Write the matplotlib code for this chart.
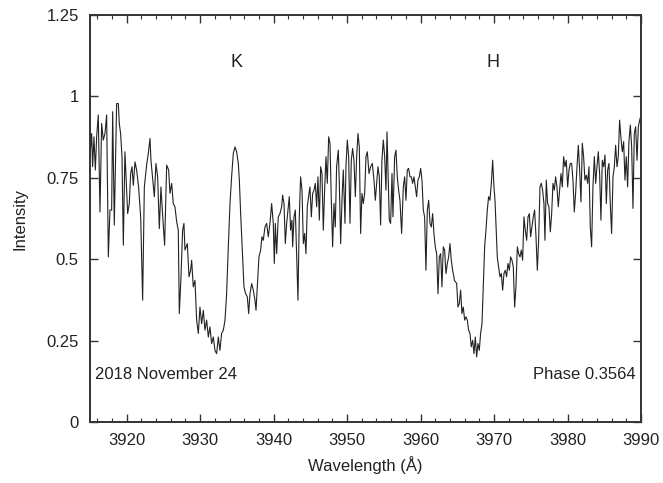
import matplotlib
matplotlib.use("Agg")
import matplotlib.pyplot as plt
import numpy as np
from matplotlib.ticker import MultipleLocator

plt.rcParams['font.family'] = ['Liberation Sans', 'DejaVu Sans']

# Spectrum (wavelength in Angstrom, normalised intensity)
wavelength = [
    3915.00, 3915.23, 3915.36, 3915.54, 3915.73, 3915.91, 3916.13, 3916.36, 3916.59, 3916.81,
    3917.04, 3917.27, 3917.50, 3917.72, 3917.95, 3918.09, 3918.31, 3918.63, 3918.86, 3918.99,
    3919.17, 3919.36, 3919.54, 3919.76, 3919.99, 3920.13, 3920.35, 3920.54, 3920.72, 3920.90,
    3921.13, 3921.35, 3921.62, 3921.90, 3922.17, 3922.40, 3922.71, 3922.94, 3923.17, 3923.30,
    3923.53, 3923.76, 3923.98, 3924.21, 3924.44, 3924.66, 3924.89, 3925.16, 3925.44, 3925.71,
    3925.89, 3926.12, 3926.34, 3926.57, 3926.80, 3927.02, 3927.16, 3927.39, 3927.61, 3927.79,
    3927.93, 3928.25, 3928.48, 3928.70, 3928.84, 3929.06, 3929.29, 3929.52, 3929.75, 3929.97,
    3930.20, 3930.43, 3930.65, 3930.88, 3931.11, 3931.33, 3931.56, 3931.79, 3932.01, 3932.24,
    3932.47, 3932.69, 3932.92, 3933.15, 3933.38, 3933.60, 3933.83, 3934.06, 3934.28, 3934.51,
    3934.74, 3934.96, 3935.19, 3935.33, 3935.51, 3935.73, 3935.96, 3936.19, 3936.42, 3936.60,
    3936.78, 3937.01, 3937.23, 3937.46, 3937.60, 3937.78, 3938.00, 3938.23, 3938.41, 3938.59,
    3938.82, 3939.05, 3939.27, 3939.50, 3939.73, 3939.95, 3940.09, 3940.23, 3940.41, 3940.63,
    3940.86, 3941.09, 3941.22, 3941.41, 3941.59, 3941.77, 3941.95, 3942.13, 3942.31, 3942.49,
    3942.59, 3942.77, 3942.95, 3943.13, 3943.31, 3943.49, 3943.67, 3943.86, 3944.04, 3944.22,
    3944.40, 3944.58, 3944.81, 3944.94, 3945.13, 3945.31, 3945.49, 3945.67, 3945.85, 3946.03,
    3946.22, 3946.40, 3946.58, 3946.76, 3946.94, 3947.12, 3947.30, 3947.49, 3947.67, 3947.85,
    3948.03, 3948.21, 3948.39, 3948.57, 3948.80, 3948.94, 3949.12, 3949.30, 3949.48, 3949.71,
    3949.84, 3950.03, 3950.21, 3950.39, 3950.57, 3950.75, 3950.93, 3951.12, 3951.30, 3951.48,
    3951.66, 3951.84, 3952.02, 3952.20, 3952.39, 3952.57, 3952.75, 3952.98, 3953.20, 3953.43,
    3953.66, 3953.84, 3954.02, 3954.20, 3954.38, 3954.56, 3954.74, 3954.93, 3955.11, 3955.29,
    3955.43, 3955.56, 3955.74, 3955.92, 3956.11, 3956.24, 3956.47, 3956.65, 3956.83, 3957.01,
    3957.19, 3957.42, 3957.65, 3957.83, 3958.01, 3958.19, 3958.37, 3958.56, 3958.74, 3958.92,
    3959.10, 3959.28, 3959.46, 3959.64, 3959.83, 3960.01, 3960.19, 3960.37, 3960.55, 3960.73,
    3960.92, 3961.10, 3961.28, 3961.46, 3961.64, 3961.82, 3962.00, 3962.19, 3962.37, 3962.55,
    3962.73, 3962.91, 3963.09, 3963.27, 3963.46, 3963.64, 3963.82, 3964.00, 3964.18, 3964.36,
    3964.54, 3964.59, 3964.77, 3964.91, 3965.09, 3965.27, 3965.45, 3965.63, 3965.81, 3966.00,
    3966.18, 3966.36, 3966.54, 3966.72, 3966.90, 3967.09, 3967.27, 3967.45, 3967.63, 3967.81,
    3967.99, 3968.17, 3968.36, 3968.54, 3968.72, 3968.90, 3969.08, 3969.26, 3969.44, 3969.63,
    3969.81, 3969.99, 3970.13, 3970.26, 3970.44, 3970.62, 3970.81, 3970.99, 3971.17, 3971.35,
    3971.53, 3971.71, 3971.89, 3972.08, 3972.26, 3972.44, 3972.62, 3972.80, 3972.98, 3973.17,
    3973.35, 3973.53, 3973.71, 3973.89, 3974.07, 3974.25, 3974.44, 3974.62, 3974.80, 3974.98,
    3975.16, 3975.34, 3975.52, 3975.71, 3975.89, 3976.07, 3976.25, 3976.43, 3976.61, 3976.79,
    3976.93, 3977.11, 3977.29, 3977.47, 3977.66, 3977.84, 3978.02, 3978.20, 3978.38, 3978.56,
    3978.74, 3978.93, 3979.11, 3979.29, 3979.47, 3979.65, 3979.83, 3980.02, 3980.20, 3980.38,
    3980.56, 3980.74, 3980.92, 3981.10, 3981.29, 3981.47, 3981.65, 3981.83, 3982.01, 3982.19,
    3982.37, 3982.56, 3982.74, 3982.92, 3983.10, 3983.28, 3983.46, 3983.65, 3983.83, 3984.01,
    3984.19, 3984.37, 3984.55, 3984.73, 3984.92, 3985.10, 3985.28, 3985.46, 3985.64, 3985.82,
    3986.00, 3986.19, 3986.37, 3986.55, 3986.73, 3986.91, 3987.09, 3987.28, 3987.46, 3987.64,
    3987.82, 3988.00, 3988.18, 3988.36, 3988.55, 3988.73, 3988.91, 3989.09, 3989.27, 3989.46,
    3989.64, 3989.82, 3989.95,
]
intensity = [
    0.815, 0.886, 0.784, 0.876, 0.774, 0.876, 0.943, 0.645, 0.917, 0.866,
    0.886, 0.943, 0.507, 0.651, 0.651, 0.953, 0.605, 0.978, 0.978, 0.917,
    0.886, 0.815, 0.543, 0.830, 0.712, 0.640, 0.671, 0.763, 0.784, 0.727,
    0.799, 0.774, 0.722, 0.630, 0.374, 0.722, 0.789, 0.825, 0.871, 0.804,
    0.748, 0.692, 0.794, 0.753, 0.594, 0.722, 0.635, 0.543, 0.789, 0.774,
    0.702, 0.733, 0.671, 0.661, 0.615, 0.589, 0.333, 0.446, 0.589, 0.610,
    0.528, 0.548, 0.446, 0.466, 0.497, 0.415, 0.435, 0.313, 0.272, 0.353,
    0.302, 0.343, 0.282, 0.313, 0.261, 0.292, 0.241, 0.261, 0.220, 0.210,
    0.261, 0.220, 0.272, 0.282, 0.313, 0.394, 0.538, 0.671, 0.753, 0.825,
    0.845, 0.830, 0.794, 0.743, 0.640, 0.528, 0.415, 0.394, 0.384, 0.333,
    0.394, 0.425, 0.405, 0.374, 0.343, 0.415, 0.507, 0.528, 0.569, 0.558,
    0.599, 0.610, 0.569, 0.610, 0.671, 0.610, 0.487, 0.610, 0.517, 0.630,
    0.640, 0.661, 0.697, 0.671, 0.548, 0.610, 0.651, 0.692, 0.589, 0.620,
    0.538, 0.630, 0.651, 0.507, 0.374, 0.630, 0.753, 0.712, 0.548, 0.579,
    0.517, 0.661, 0.702, 0.722, 0.630, 0.702, 0.712, 0.733, 0.661, 0.753,
    0.620, 0.784, 0.763, 0.589, 0.712, 0.815, 0.733, 0.876, 0.856, 0.681,
    0.538, 0.671, 0.599, 0.784, 0.835, 0.733, 0.548, 0.681, 0.774, 0.610,
    0.784, 0.866, 0.815, 0.610, 0.804, 0.840, 0.804, 0.692, 0.815, 0.886,
    0.845, 0.579, 0.702, 0.671, 0.702, 0.815, 0.830, 0.763, 0.784, 0.794,
    0.743, 0.681, 0.733, 0.784, 0.753, 0.605, 0.804, 0.866, 0.815, 0.712,
    0.891, 0.774, 0.620, 0.610, 0.763, 0.630, 0.815, 0.835, 0.753, 0.712,
    0.681, 0.579, 0.722, 0.753, 0.681, 0.774, 0.779, 0.753, 0.753, 0.733,
    0.753, 0.722, 0.692, 0.743, 0.753, 0.779, 0.743, 0.651, 0.630, 0.466,
    0.651, 0.681, 0.610, 0.599, 0.640, 0.579, 0.538, 0.517, 0.394, 0.507,
    0.517, 0.415, 0.538, 0.528, 0.456, 0.487, 0.507, 0.548, 0.497, 0.466,
    0.446, 0.435, 0.430, 0.425, 0.353, 0.364, 0.405, 0.333, 0.353, 0.313,
    0.323, 0.313, 0.282, 0.272, 0.231, 0.251, 0.210, 0.261, 0.200, 0.241,
    0.220, 0.272, 0.302, 0.425, 0.538, 0.589, 0.651, 0.692, 0.681, 0.733,
    0.804, 0.722, 0.681, 0.610, 0.507, 0.476, 0.446, 0.456, 0.405, 0.456,
    0.466, 0.446, 0.487, 0.466, 0.507, 0.497, 0.476, 0.353, 0.415, 0.538,
    0.517, 0.507, 0.528, 0.497, 0.630, 0.589, 0.558, 0.630, 0.640, 0.569,
    0.599, 0.630, 0.651, 0.569, 0.466, 0.558, 0.722, 0.733, 0.712, 0.671,
    0.558, 0.743, 0.671, 0.661, 0.584, 0.640, 0.733, 0.712, 0.753, 0.722,
    0.661, 0.712, 0.763, 0.722, 0.815, 0.784, 0.804, 0.722, 0.774, 0.794,
    0.794, 0.743, 0.645, 0.702, 0.784, 0.850, 0.774, 0.676, 0.856, 0.815,
    0.743, 0.758, 0.733, 0.784, 0.599, 0.538, 0.722, 0.815, 0.733, 0.784,
    0.830, 0.763, 0.620, 0.804, 0.784, 0.820, 0.671, 0.774, 0.794, 0.671,
    0.579, 0.753, 0.784, 0.850, 0.784, 0.815, 0.927, 0.871, 0.830, 0.861,
    0.743, 0.815, 0.722, 0.861, 0.912, 0.845, 0.656, 0.886, 0.907, 0.804,
    0.907, 0.927, 0.938,
]

# Line identifications and annotations
line_names = ['K', 'H']
line_centres = [3935.0, 3969.85]
date_label = '2018 November 24'
phase_label = 'Phase 0.3564'

y_ticks = [0, 0.25, 0.5, 0.75, 1, 1.25]
y_ticklabels = ['0', '0.25', '0.5', '0.75', '1', '1.25']
x_ticks = [3920, 3930, 3940, 3950, 3960, 3970, 3980, 3990]

fig = plt.figure(figsize=(6.63, 4.83), dpi=100)
ax = fig.add_axes([0.1357, 0.1263, 0.8311, 0.8426])

ax.plot(wavelength, intensity, color='#222222', lw=0.8)

ax.set_xlim(3915, 3990)
ax.set_ylim(0, 1.25)
ax.set_xticks(x_ticks)
ax.xaxis.set_minor_locator(MultipleLocator(2))
ax.set_yticks(y_ticks)
ax.set_yticklabels(y_ticklabels)

ax.tick_params(which='both', direction='in', top=True, right=True,
               colors='#333333', labelcolor='#222222', labelsize=12, pad=8)
ax.tick_params(which='major', length=6, width=1.0)
ax.tick_params(which='minor', length=3, width=0.8)
for s in ax.spines.values():
    s.set_linewidth(1.4)
    s.set_color('#333333')

ax.set_xlabel('Wavelength (Å)', fontsize=12, color='#222222', labelpad=6)
ax.set_ylabel('Intensity', fontsize=12, color='#222222', labelpad=14)

for name, lam in zip(line_names, line_centres):
    ax.text(lam, 1.105, name, ha='center', va='center', fontsize=13, color='#222222')

ax.text(3915.7, 0.145, date_label, ha='left', va='center', fontsize=12, color='#222222')
ax.text(3989.3, 0.145, phase_label, ha='right', va='center', fontsize=12, color='#222222')

fig.savefig('out.png', dpi=100)
